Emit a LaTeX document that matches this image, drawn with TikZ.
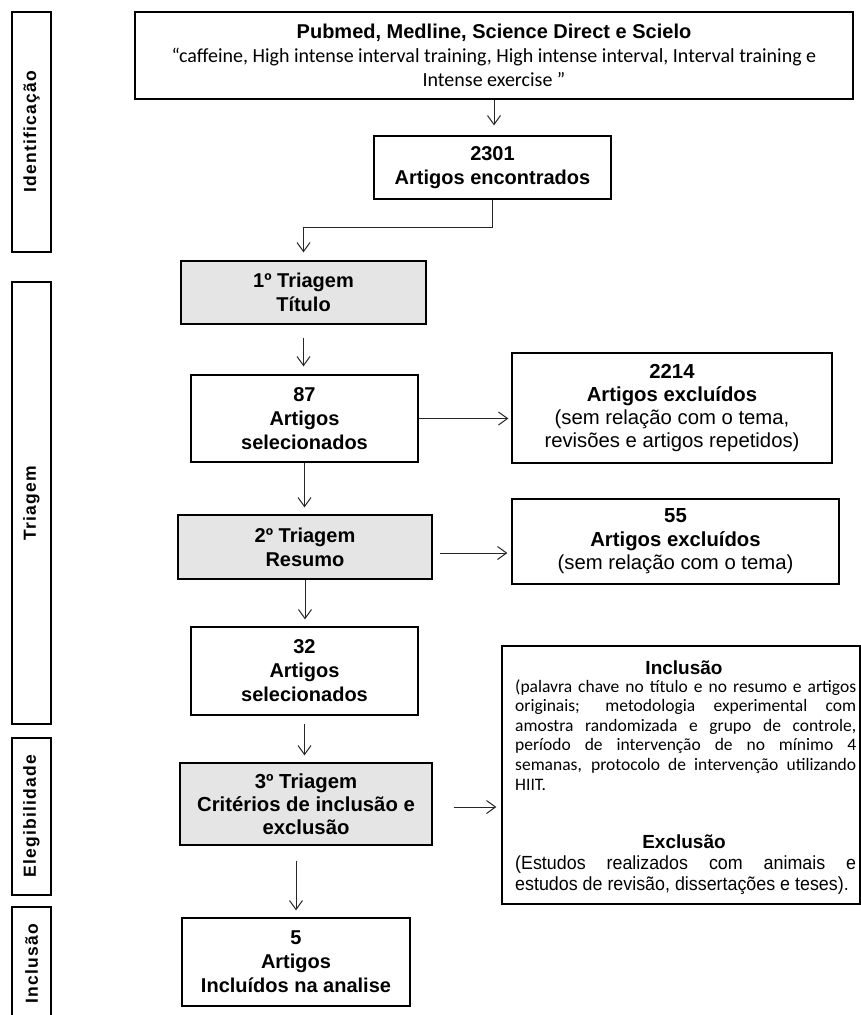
\documentclass[tikz,border=0pt]{standalone}
\usepackage{fontspec}
\setmainfont{Liberation Sans}
\newfontfamily\calib{Carlito}
\newfontfamily\narrowf[FakeStretch=0.94]{Liberation Sans}
\newfontfamily\sidef[LetterSpace=7]{Liberation Sans}
\usetikzlibrary{arrows.meta,calc}
\definecolor{boxgray}{HTML}{E5E5E5}
\tikzset{
  box/.style={draw=black, line width=1.3pt, fill=white, inner sep=0pt, align=center,
    font=\fontsize{20}{24}\selectfont},
  graybox/.style={box, fill=boxgray},
  sidebox/.style={draw=black, line width=1.3pt, inner sep=0pt, rotate=90,
    font=\sidef\bfseries\fontsize{17.5}{19}\selectfont, minimum height=39pt},
  arr/.style={draw=black!85, line width=1pt, -{Straight Barb[length=9pt,width=13pt]}},
  para/.style={inner sep=0pt, anchor=north west, text width=341pt, align=justify}
}
\begin{document}
\begin{tikzpicture}[x=1pt,y=-1pt]
\useasboundingbox (0,0) rectangle (861,1015);
\fill[white] (0,0) rectangle (861,1015);

% side labels
\node[sidebox, minimum width=240pt] (sid1) at (31.5,132) {Identificação};
\node[sidebox, minimum width=442pt] (sid2) at (31.5,503) {Triagem};
\node[sidebox, minimum width=157pt] (sid3) at (31.5,816.5) {Elegibilidade};
\node[sidebox, minimum width=114pt] (sid4) at (31.5,964) {Inclusão};

% main boxes
\node[box, minimum width=718pt, minimum height=87pt, font=\fontsize{20}{24}\selectfont] (top) at (494,55.5)
  {\bfseries Pubmed, Medline, Science Direct e Scielo\\
   {\calib “caffeine, High intense interval training, High intense interval, Interval training e}\\
   {\calib Intense exercise ”}};
\node[box, minimum width=237pt, minimum height=63pt] (n2301) at (492.5,167.5)
  {\bfseries 2301\\\bfseries Artigos encontrados};
\node[graybox, minimum width=245pt, minimum height=63pt] (t1) at (303.5,292.5)
  {\bfseries 1º Triagem\\\bfseries Título};
\node[box, minimum width=227pt, minimum height=87pt] (n87) at (304.5,418.5)
  {\bfseries 87\\\bfseries Artigos\\\bfseries selecionados};
\node[box, minimum width=320pt, minimum height=110pt, font=\fontsize{20.3}{23}\selectfont] (n2214) at (672,408)
  {\bfseries 2214\\\bfseries Artigos excluídos\\(sem relação com o tema,\\revisões e artigos repetidos)};
\node[graybox, minimum width=254pt, minimum height=64pt] (t2) at (305,547)
  {\bfseries 2º Triagem\\\bfseries Resumo};
\node[box, minimum width=327pt, minimum height=85pt, font=\fontsize{20.3}{23.5}\selectfont] (n55) at (675.5,541.5)
  {\bfseries 55\\\bfseries Artigos excluídos\\(sem relação com o tema)};
\node[box, minimum width=227pt, minimum height=88pt] (n32) at (304.5,671)
  {\bfseries 32\\\bfseries Artigos\\\bfseries selecionados};
\node[graybox, minimum width=252pt, minimum height=82pt, font=\fontsize{20.3}{23}\selectfont] (t3) at (306,804)
  {\bfseries 3º Triagem\\\bfseries Critérios de inclusão e\\\bfseries exclusão};
\node[box, minimum width=228pt, minimum height=88pt] (n5) at (296,962)
  {\bfseries 5\\\bfseries Artigos\\\bfseries Incluídos na analise};

% criteria box
\node[box, minimum width=358pt, minimum height=258pt] (crit) at (681,775) {};
\node[inner sep=0pt, font=\bfseries\fontsize{19}{22}\selectfont] (inct) at (684,668) {Inclusão};
\node[para, font=\calib\fontsize{17.5}{19.6}\selectfont] (incp) at (515,679)
  {\hyphenpenalty=10000\exhyphenpenalty=10000\tolerance=10000\noindent
   (palavra chave no título e no resumo e artigos\linebreak
   originais; metodologia experimental com\linebreak
   amostra randomizada e grupo de controle,\linebreak
   período de intervenção de no mínimo 4\linebreak
   semanas, protocolo de intervenção utilizando\linebreak
   HIIT.};
\node[inner sep=0pt, font=\bfseries\fontsize{19}{22}\selectfont] (exct) at (684,842) {Exclusão};
\node[para, font=\narrowf\fontsize{19}{21}\selectfont] (excp) at (515,856)
  {\hyphenpenalty=10000\exhyphenpenalty=10000\tolerance=10000\noindent
   (Estudos realizados com animais e\linebreak
   estudos de revisão, dissertações e teses).};

% connectors
\draw[arr, shorten >=10pt] (top.south) -- (top.south |- n2301.north);
\draw[arr, shorten >=8pt] (n2301.south) |- ($(t1.north)+(0,-33)$) -- (t1.north);
\draw[arr, shorten <=13pt, shorten >=8pt] (t1.south) -- (t1.south |- n87.north);
\draw[arr, shorten >=3pt] (n87.east) -- (n87.east -| n2214.west);
\draw[arr, shorten >=7pt] (n87.south) -- (n87.south |- t2.north);
\coordinate (a2) at ([yshift=-6pt]t2.east);
\draw[arr, shorten <=7pt, shorten >=4pt] (a2) -- (a2 -| n55.west);
\draw[arr, shorten >=7pt] (t2.south) -- (t2.south |- n32.north);
\draw[arr, shorten <=8pt, shorten >=7pt] (n32.south) -- (n32.south |- t3.north);
\coordinate (a3) at ([yshift=-3pt]t3.east);
\draw[arr, shorten <=21pt, shorten >=5pt] (a3) -- (a3 -| crit.west);
\draw[arr, shorten <=15pt, shorten >=7pt] (t3.south -| n5.north) -- (n5.north);
\end{tikzpicture}
\end{document}
